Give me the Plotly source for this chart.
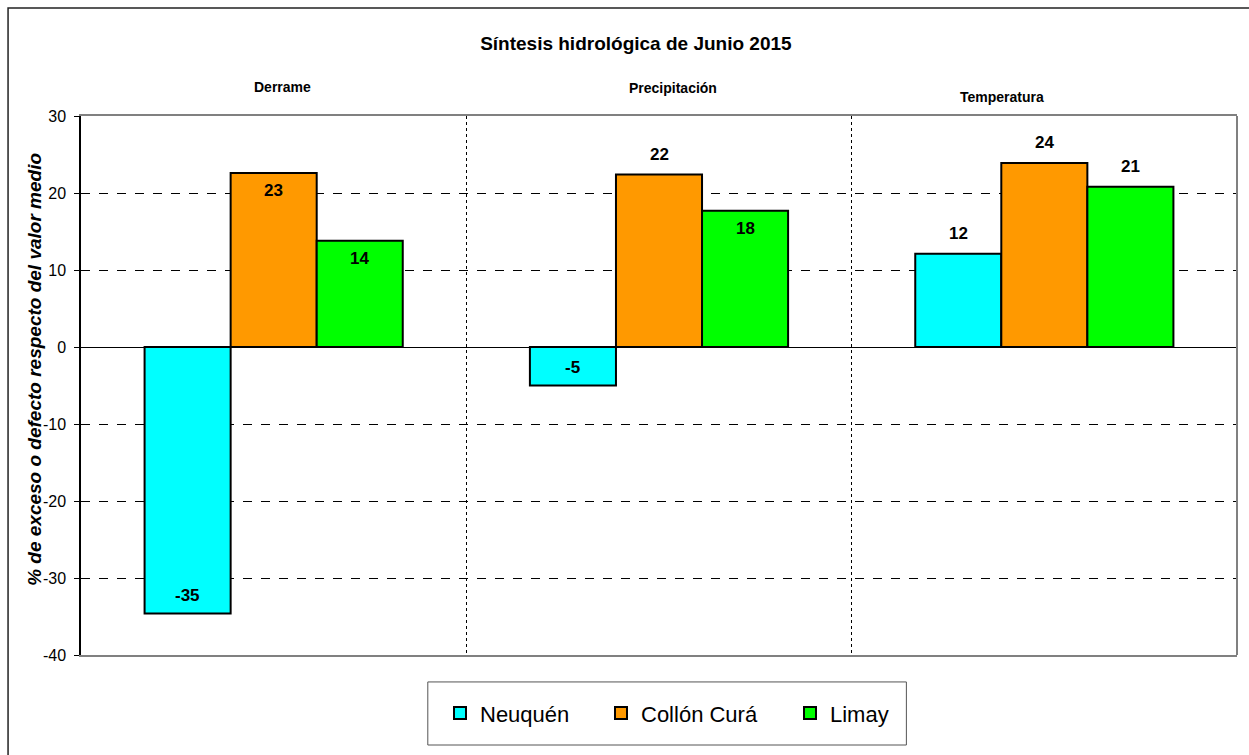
import plotly.graph_objects as go

categories = ["Derrame", "Precipitación", "Temperatura"]
series_names = ["Neuquén", "Collón Curá", "Limay"]
neuquen = [-34.6, -5.0, 12.1]
collon_cura = [22.6, 22.4, 23.9]
limay = [13.8, 17.7, 20.8]
colors = ["#00FFFF", "#FF9900", "#00FF00"]
# where each value label sits: inside the bar end ("in") or above it ("out")
label_pos = [
    ["in", "in", "out"],
    ["in", "out", "out"],
    ["in", "in", "out"],
]
y_ticks = [-40, -30, -20, -10, 0, 10, 20, 30]
title_text = "Síntesis hidrológica de Junio 2015"
y_title = "% de exceso o defecto respecto del valor medio"

FONT = "Arial, Liberation Sans, sans-serif"
xs = list(range(len(categories)))
BARGAP = 0.33
n_series = len(series_names)
bar_w = (1 - BARGAP) / n_series

fig = go.Figure()
legend_widths = [116, 144, 90]
for i, (name, vals, col) in enumerate(zip(series_names, [neuquen, collon_cura, limay], colors)):
    fig.add_trace(go.Bar(
        x=xs, y=vals, name=name,
        marker=dict(color=col, line=dict(color="black", width=2)),
        legendwidth=legend_widths[i],
        hoverinfo="x+y+name",
    ))

# value labels
for i, vals in enumerate([neuquen, collon_cura, limay]):
    off = (i - (n_series - 1) / 2) * bar_w
    for j, v in enumerate(vals):
        sign = 1 if v >= 0 else -1
        shift = 20 * sign if label_pos[i][j] == "out" else -18 * sign
        fig.add_annotation(
            x=xs[j] + off, y=v, xref="x", yref="y",
            text="<b>%d</b>" % round(v), showarrow=False,
            yshift=shift, xanchor="center", yanchor="middle",
            font=dict(family=FONT, size=17, color="black"),
        )

fig.update_layout(
    width=1249, height=755,
    margin=dict(l=81, r=12, t=116, b=100),
    paper_bgcolor="white", plot_bgcolor="white",
    barmode="group", bargap=BARGAP, bargroupgap=0,
    font=dict(family=FONT, color="black"),
    title=dict(text="<b>" + title_text + "</b>", x=0.48, xref="paper", xanchor="center",
               y=1 - 43 / 755, yref="container", yanchor="middle",
               font=dict(family=FONT, size=19, color="black")),
    showlegend=True,
    legend=dict(orientation="h", x=(440 - 81) / 1156, xanchor="left", y=-0.108, yanchor="middle",
                font=dict(family=FONT, size=22, color="black"),
                bgcolor="rgba(0,0,0,0)", borderwidth=0, itemwidth=30,
                traceorder="normal"),
)

fig.update_xaxes(
    range=[-0.5, len(categories) - 0.5],
    tickvals=[0.5, 1.5], showticklabels=False, ticks="",
    showgrid=True, gridcolor="black", griddash="dot", gridwidth=1,
    showline=True, linecolor="#808080", linewidth=2, mirror=True,
    zeroline=False,
)
fig.update_yaxes(
    range=[-40, 30], tickvals=y_ticks, ticktext=[str(t) for t in y_ticks],
    ticks="outside", ticklen=5, tickcolor="black", tickwidth=1,
    ticklabelstandoff=5,
    tickfont=dict(family=FONT, size=16, color="black"),
    showgrid=True, gridcolor="black", griddash="dash", gridwidth=1,
    showline=True, linecolor="black", linewidth=1.5,
    zeroline=True, zerolinecolor="black", zerolinewidth=1,
)

# y-axis title
fig.add_annotation(text="<b><i>" + y_title + "</i></b>", x=(35 - 81) / 1156, y=0.529,
                   xref="paper", yref="paper", textangle=-90, showarrow=False,
                   xanchor="center", yanchor="middle",
                   font=dict(family=FONT, size=19, color="black"))

# category headers above plot
header_pos = [(0.174, 1.054), (0.512, 1.052), (0.797, 1.035)]
for cat, (hx, hy) in zip(categories, header_pos):
    fig.add_annotation(text="<b>" + cat + "</b>", x=hx, y=hy, xref="paper", yref="paper",
                       showarrow=False, font=dict(family=FONT, size=14, color="black"),
                       xanchor="center", yanchor="middle")

# right border of plot area
fig.add_shape(type="line", xref="paper", yref="paper", x0=1, x1=1, y0=0, y1=1,
              line=dict(color="#808080", width=2))
# legend box
fig.add_shape(type="rect", xref="paper", yref="paper", x0=0.300, x1=0.714, y0=-0.167, y1=-0.050,
              line=dict(color="#555555", width=1))
# outer chart frame
fig.add_shape(type="rect", xref="paper", yref="paper", x0=-0.0631, x1=1.03, y0=-0.21, y1=1.2004,
              line=dict(color="#222222", width=1.5))

fig.write_html("out.html", config={"displayModeBar": False},
               post_script="document.body.style.margin='0';")
